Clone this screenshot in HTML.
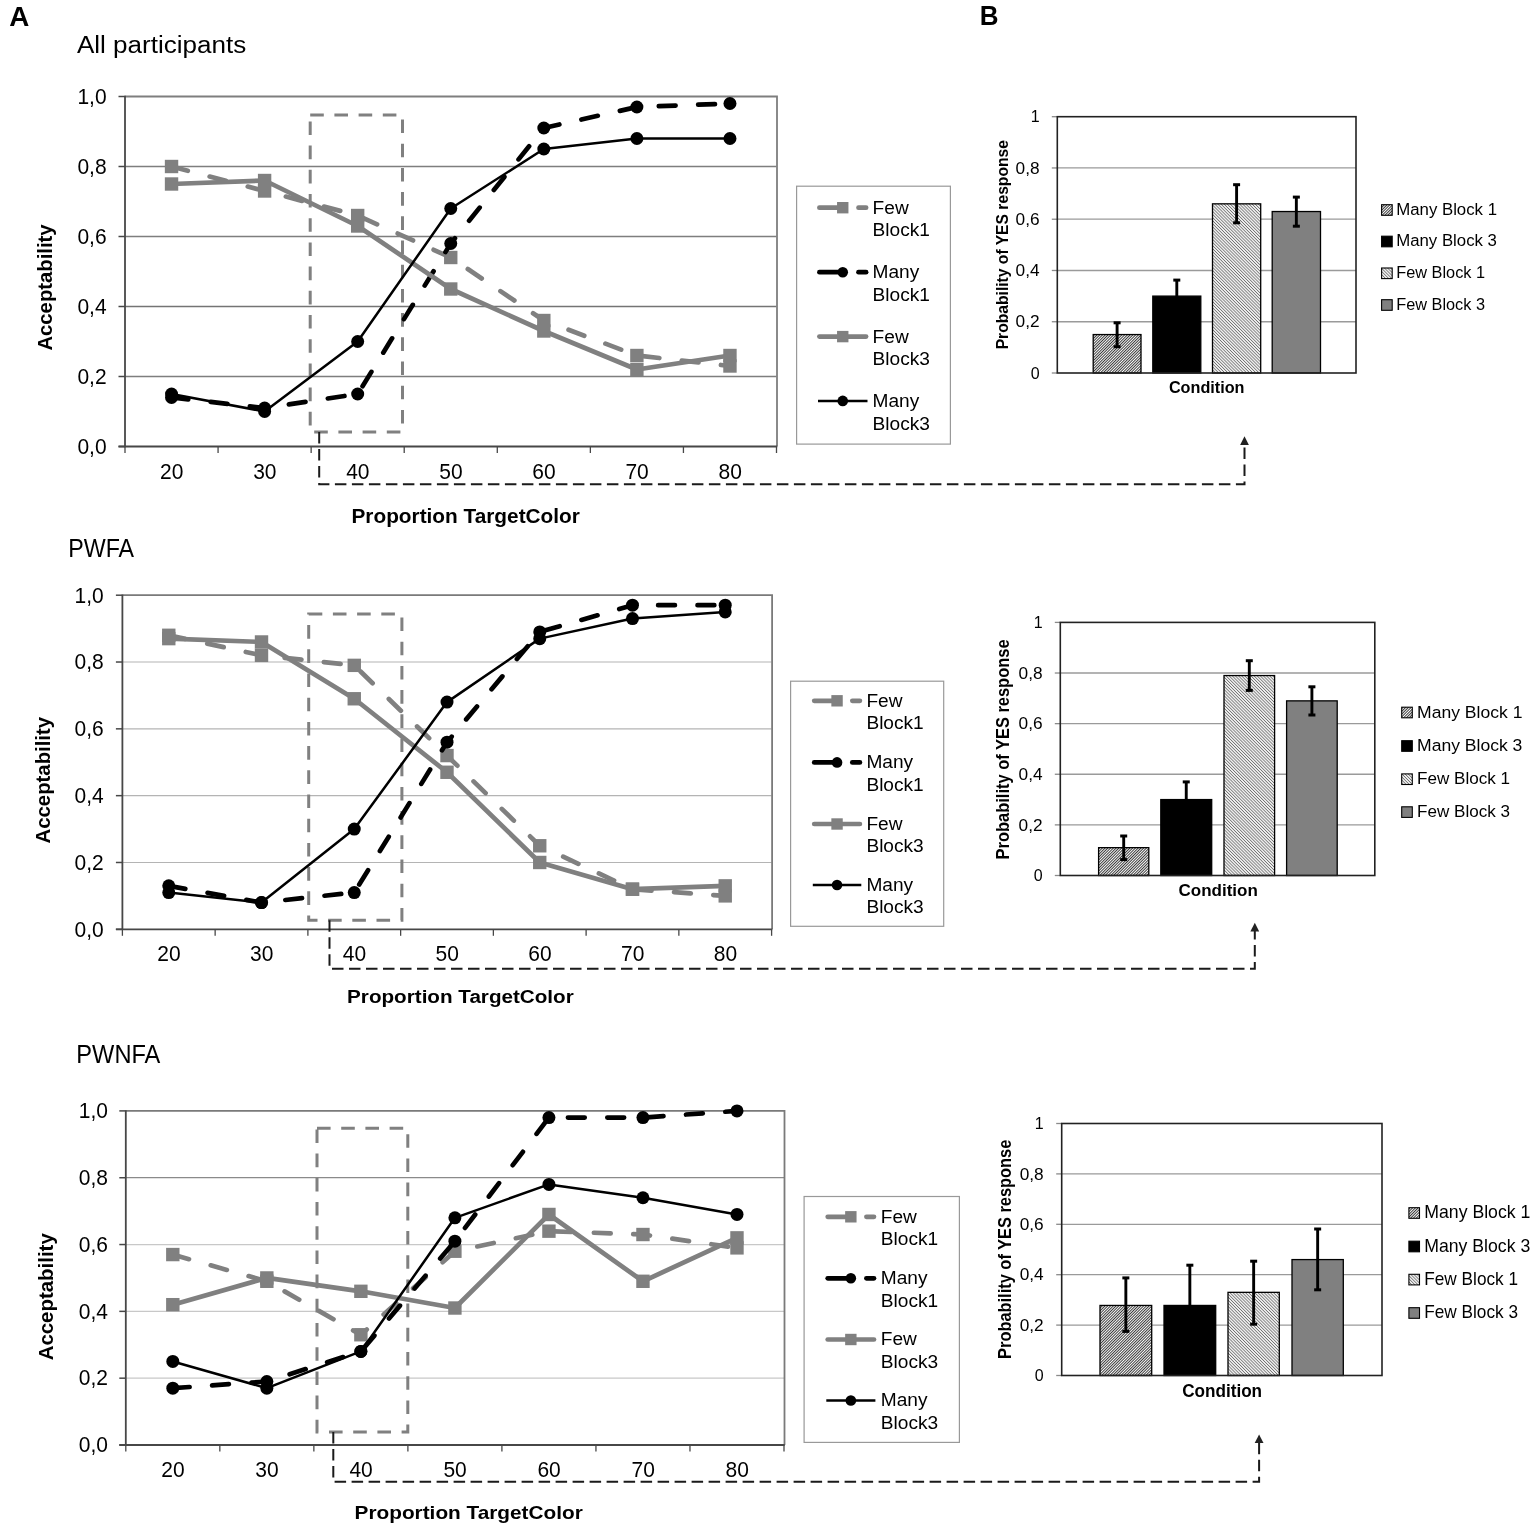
<!DOCTYPE html>
<html><head><meta charset="utf-8"><title>Figure</title>
<style>html,body{margin:0;padding:0;background:#fff;overflow:hidden;width:1535px;height:1524px;} svg{display:block;} text{font-family:"Liberation Sans",Arial,sans-serif;}</style>
</head><body>
<svg width="1535" height="1524" viewBox="0 0 1535 1524">
<rect width="1535" height="1524" fill="#fff"/>
<defs>
<pattern id="hatchA" patternUnits="userSpaceOnUse" width="4" height="1.95" patternTransform="rotate(-45)">
<rect width="4" height="1.95" fill="#fbfbfb"/><rect width="4" height="0.82" fill="#151515"/></pattern>
<pattern id="hatchB" patternUnits="userSpaceOnUse" width="4" height="2.2" patternTransform="rotate(45)">
<rect width="4" height="2.2" fill="#ededed"/><rect width="4" height="0.58" fill="#4d4d4d"/></pattern>
</defs>
<line x1="125" y1="376.50" x2="776.5" y2="376.50" stroke="#7e7e7e" stroke-width="1.5"/>
<line x1="125" y1="306.50" x2="776.5" y2="306.50" stroke="#747474" stroke-width="1.5"/>
<line x1="125" y1="236.50" x2="776.5" y2="236.50" stroke="#7e7e7e" stroke-width="1.5"/>
<line x1="125" y1="166.50" x2="776.5" y2="166.50" stroke="#7e7e7e" stroke-width="1.5"/>
<polyline points="125,96.5 777.0,96.5 777.0,446.5" fill="none" stroke="#7e7e7e" stroke-width="1.8"/>
<line x1="118.5" y1="446.50" x2="125" y2="446.50" stroke="#474747" stroke-width="1.5"/>
<line x1="118.5" y1="376.50" x2="125" y2="376.50" stroke="#474747" stroke-width="1.5"/>
<line x1="118.5" y1="306.50" x2="125" y2="306.50" stroke="#474747" stroke-width="1.5"/>
<line x1="118.5" y1="236.50" x2="125" y2="236.50" stroke="#474747" stroke-width="1.5"/>
<line x1="118.5" y1="166.50" x2="125" y2="166.50" stroke="#474747" stroke-width="1.5"/>
<line x1="118.5" y1="96.50" x2="125" y2="96.50" stroke="#474747" stroke-width="1.5"/>
<line x1="125.00" y1="446.5" x2="125.00" y2="453.0" stroke="#474747" stroke-width="1.3"/>
<line x1="218.07" y1="446.5" x2="218.07" y2="453.0" stroke="#474747" stroke-width="1.3"/>
<line x1="311.14" y1="446.5" x2="311.14" y2="453.0" stroke="#474747" stroke-width="1.3"/>
<line x1="404.21" y1="446.5" x2="404.21" y2="453.0" stroke="#474747" stroke-width="1.3"/>
<line x1="497.29" y1="446.5" x2="497.29" y2="453.0" stroke="#474747" stroke-width="1.3"/>
<line x1="590.36" y1="446.5" x2="590.36" y2="453.0" stroke="#474747" stroke-width="1.3"/>
<line x1="683.43" y1="446.5" x2="683.43" y2="453.0" stroke="#474747" stroke-width="1.3"/>
<line x1="776.50" y1="446.5" x2="776.50" y2="453.0" stroke="#474747" stroke-width="1.3"/>
<line x1="125" y1="95.8" x2="125" y2="447.3" stroke="#474747" stroke-width="1.8"/>
<line x1="118.5" y1="446.5" x2="777.2" y2="446.5" stroke="#474747" stroke-width="1.8"/>
<text x="106.60" y="453.80" font-size="22" text-anchor="end" textLength="29.19" lengthAdjust="spacingAndGlyphs">0,0</text>
<text x="106.60" y="383.80" font-size="22" text-anchor="end" textLength="29.19" lengthAdjust="spacingAndGlyphs">0,2</text>
<text x="106.60" y="313.80" font-size="22" text-anchor="end" textLength="29.19" lengthAdjust="spacingAndGlyphs">0,4</text>
<text x="106.60" y="243.80" font-size="22" text-anchor="end" textLength="29.19" lengthAdjust="spacingAndGlyphs">0,6</text>
<text x="106.60" y="173.80" font-size="22" text-anchor="end" textLength="29.19" lengthAdjust="spacingAndGlyphs">0,8</text>
<text x="106.60" y="103.80" font-size="22" text-anchor="end" textLength="29.19" lengthAdjust="spacingAndGlyphs">1,0</text>
<text x="171.74" y="478.60" font-size="22" text-anchor="middle" textLength="23.35" lengthAdjust="spacingAndGlyphs">20</text>
<text x="264.81" y="478.60" font-size="22" text-anchor="middle" textLength="23.35" lengthAdjust="spacingAndGlyphs">30</text>
<text x="357.88" y="478.60" font-size="22" text-anchor="middle" textLength="23.35" lengthAdjust="spacingAndGlyphs">40</text>
<text x="450.95" y="478.60" font-size="22" text-anchor="middle" textLength="23.35" lengthAdjust="spacingAndGlyphs">50</text>
<text x="544.02" y="478.60" font-size="22" text-anchor="middle" textLength="23.35" lengthAdjust="spacingAndGlyphs">60</text>
<text x="637.09" y="478.60" font-size="22" text-anchor="middle" textLength="23.35" lengthAdjust="spacingAndGlyphs">70</text>
<text x="730.16" y="478.60" font-size="22" text-anchor="middle" textLength="23.35" lengthAdjust="spacingAndGlyphs">80</text>
<rect x="310.2" y="115" width="92.30" height="317.00" fill="none" stroke="#808080" stroke-width="3" stroke-dasharray="13.6 10.6"/>
<polyline points="171.54,166.50 264.61,191.00 357.68,215.50 450.75,257.50 543.82,320.50 636.89,355.50 729.96,366.00" fill="none" stroke="#808080" stroke-width="4.7" stroke-linecap="round" stroke-linejoin="round" stroke-dasharray="16.8 22.6"/>
<rect x="164.84" y="159.80" width="13.4" height="13.4" fill="#808080"/>
<rect x="257.91" y="184.30" width="13.4" height="13.4" fill="#808080"/>
<rect x="350.98" y="208.80" width="13.4" height="13.4" fill="#808080"/>
<rect x="444.05" y="250.80" width="13.4" height="13.4" fill="#808080"/>
<rect x="537.12" y="313.80" width="13.4" height="13.4" fill="#808080"/>
<rect x="630.19" y="348.80" width="13.4" height="13.4" fill="#808080"/>
<rect x="723.26" y="359.30" width="13.4" height="13.4" fill="#808080"/>
<polyline points="171.54,397.50 264.61,408.00 357.68,394.00 450.75,243.50 543.82,128.00 636.89,107.00 729.96,103.50" fill="none" stroke="#000" stroke-width="4.7" stroke-linecap="round" stroke-linejoin="round" stroke-dasharray="16.8 22.6"/>
<circle cx="171.54" cy="397.50" r="6.5" fill="#000"/>
<circle cx="264.61" cy="408.00" r="6.5" fill="#000"/>
<circle cx="357.68" cy="394.00" r="6.5" fill="#000"/>
<circle cx="450.75" cy="243.50" r="6.5" fill="#000"/>
<circle cx="543.82" cy="128.00" r="6.5" fill="#000"/>
<circle cx="636.89" cy="107.00" r="6.5" fill="#000"/>
<circle cx="729.96" cy="103.50" r="6.5" fill="#000"/>
<polyline points="171.54,184.00 264.61,180.50 357.68,226.00 450.75,289.00 543.82,331.00 636.89,369.50 729.96,355.50" fill="none" stroke="#808080" stroke-width="4.7" stroke-linejoin="round"/>
<rect x="164.84" y="177.30" width="13.4" height="13.4" fill="#808080"/>
<rect x="257.91" y="173.80" width="13.4" height="13.4" fill="#808080"/>
<rect x="350.98" y="219.30" width="13.4" height="13.4" fill="#808080"/>
<rect x="444.05" y="282.30" width="13.4" height="13.4" fill="#808080"/>
<rect x="537.12" y="324.30" width="13.4" height="13.4" fill="#808080"/>
<rect x="630.19" y="362.80" width="13.4" height="13.4" fill="#808080"/>
<rect x="723.26" y="348.80" width="13.4" height="13.4" fill="#808080"/>
<polyline points="171.54,394.00 264.61,411.50 357.68,341.50 450.75,208.50 543.82,149.00 636.89,138.50 729.96,138.50" fill="none" stroke="#000" stroke-width="2.5" stroke-linejoin="round"/>
<circle cx="171.54" cy="394.00" r="6.5" fill="#000"/>
<circle cx="264.61" cy="411.50" r="6.5" fill="#000"/>
<circle cx="357.68" cy="341.50" r="6.5" fill="#000"/>
<circle cx="450.75" cy="208.50" r="6.5" fill="#000"/>
<circle cx="543.82" cy="149.00" r="6.5" fill="#000"/>
<circle cx="636.89" cy="138.50" r="6.5" fill="#000"/>
<circle cx="729.96" cy="138.50" r="6.5" fill="#000"/>
<rect x="796.6" y="186.2" width="153.80" height="257.90" fill="#fff" stroke="#999" stroke-width="1.2"/>
<line x1="819.40" y1="207.7" x2="839.75" y2="207.7" stroke="#808080" stroke-width="4.7" stroke-linecap="round"/>
<line x1="858.50" y1="207.7" x2="866.10" y2="207.7" stroke="#808080" stroke-width="4.7" stroke-linecap="round"/>
<rect x="837.05" y="202.00" width="11.4" height="11.4" fill="#808080"/>
<text x="872.60" y="213.90" font-size="19.1" font-weight="normal" text-anchor="start" fill="#000">Few</text>
<text x="872.60" y="236.30" font-size="19.1" font-weight="normal" text-anchor="start" fill="#000">Block1</text>
<line x1="819.40" y1="272.2" x2="839.75" y2="272.2" stroke="#000" stroke-width="4.7" stroke-linecap="round"/>
<line x1="858.50" y1="272.2" x2="866.10" y2="272.2" stroke="#000" stroke-width="4.7" stroke-linecap="round"/>
<circle cx="842.75" cy="272.2" r="5.3" fill="#000"/>
<text x="872.60" y="278.40" font-size="19.1" font-weight="normal" text-anchor="start" fill="#000">Many</text>
<text x="872.60" y="300.80" font-size="19.1" font-weight="normal" text-anchor="start" fill="#000">Block1</text>
<line x1="819.40" y1="336.6" x2="866.10" y2="336.6" stroke="#808080" stroke-width="4.7" stroke-linecap="round"/>
<rect x="837.05" y="330.90" width="11.4" height="11.4" fill="#808080"/>
<text x="872.60" y="342.80" font-size="19.1" font-weight="normal" text-anchor="start" fill="#000">Few</text>
<text x="872.60" y="365.20" font-size="19.1" font-weight="normal" text-anchor="start" fill="#000">Block3</text>
<line x1="818.00" y1="400.9" x2="867.50" y2="400.9" stroke="#000" stroke-width="2.5"/>
<circle cx="842.75" cy="400.9" r="5.3" fill="#000"/>
<text x="872.60" y="407.10" font-size="19.1" font-weight="normal" text-anchor="start" fill="#000">Many</text>
<text x="872.60" y="429.50" font-size="19.1" font-weight="normal" text-anchor="start" fill="#000">Block3</text>
<text x="76.95" y="53.45" font-size="24.83" font-weight="normal" textLength="169.31" lengthAdjust="spacingAndGlyphs" fill="#000">All participants</text>
<text transform="translate(52.05,350.56) rotate(-90)" font-size="19.72" font-weight="bold" textLength="126.13" lengthAdjust="spacingAndGlyphs" fill="#000">Acceptability</text>
<text x="351.50" y="523.45" font-size="20.00" font-weight="bold" textLength="228.35" lengthAdjust="spacingAndGlyphs" fill="#000">Proportion TargetColor</text>
<polyline points="319.2,432 319.2,484.3 1244.5,484.3 1244.5,443.3" fill="none" stroke="#1a1a1a" stroke-width="2" stroke-dasharray="11.5 5.5"/>
<polygon points="1244.5,436.3 1240.1,444.90000000000003 1248.9,444.90000000000003" fill="#222"/>
<line x1="122.4" y1="862.48" x2="771.6" y2="862.48" stroke="#b4b4b4" stroke-width="1.2"/>
<line x1="122.4" y1="795.66" x2="771.6" y2="795.66" stroke="#b4b4b4" stroke-width="1.2"/>
<line x1="122.4" y1="728.84" x2="771.6" y2="728.84" stroke="#b4b4b4" stroke-width="1.2"/>
<line x1="122.4" y1="662.02" x2="771.6" y2="662.02" stroke="#b4b4b4" stroke-width="1.2"/>
<polyline points="122.4,595.2 772.1,595.2 772.1,929.3" fill="none" stroke="#7a7a7a" stroke-width="1.8"/>
<line x1="115.9" y1="929.30" x2="122.4" y2="929.30" stroke="#474747" stroke-width="1.5"/>
<line x1="115.9" y1="862.48" x2="122.4" y2="862.48" stroke="#474747" stroke-width="1.5"/>
<line x1="115.9" y1="795.66" x2="122.4" y2="795.66" stroke="#474747" stroke-width="1.5"/>
<line x1="115.9" y1="728.84" x2="122.4" y2="728.84" stroke="#474747" stroke-width="1.5"/>
<line x1="115.9" y1="662.02" x2="122.4" y2="662.02" stroke="#474747" stroke-width="1.5"/>
<line x1="115.9" y1="595.20" x2="122.4" y2="595.20" stroke="#474747" stroke-width="1.5"/>
<line x1="122.40" y1="929.3" x2="122.40" y2="935.8" stroke="#474747" stroke-width="1.3"/>
<line x1="215.14" y1="929.3" x2="215.14" y2="935.8" stroke="#474747" stroke-width="1.3"/>
<line x1="307.89" y1="929.3" x2="307.89" y2="935.8" stroke="#474747" stroke-width="1.3"/>
<line x1="400.63" y1="929.3" x2="400.63" y2="935.8" stroke="#474747" stroke-width="1.3"/>
<line x1="493.37" y1="929.3" x2="493.37" y2="935.8" stroke="#474747" stroke-width="1.3"/>
<line x1="586.11" y1="929.3" x2="586.11" y2="935.8" stroke="#474747" stroke-width="1.3"/>
<line x1="678.86" y1="929.3" x2="678.86" y2="935.8" stroke="#474747" stroke-width="1.3"/>
<line x1="771.60" y1="929.3" x2="771.60" y2="935.8" stroke="#474747" stroke-width="1.3"/>
<line x1="122.4" y1="594.5" x2="122.4" y2="930.0999999999999" stroke="#474747" stroke-width="1.8"/>
<line x1="115.9" y1="929.3" x2="772.3000000000001" y2="929.3" stroke="#474747" stroke-width="1.8"/>
<text x="103.70" y="936.60" font-size="22" text-anchor="end" textLength="29.19" lengthAdjust="spacingAndGlyphs">0,0</text>
<text x="103.70" y="869.78" font-size="22" text-anchor="end" textLength="29.19" lengthAdjust="spacingAndGlyphs">0,2</text>
<text x="103.70" y="802.96" font-size="22" text-anchor="end" textLength="29.19" lengthAdjust="spacingAndGlyphs">0,4</text>
<text x="103.70" y="736.14" font-size="22" text-anchor="end" textLength="29.19" lengthAdjust="spacingAndGlyphs">0,6</text>
<text x="103.70" y="669.32" font-size="22" text-anchor="end" textLength="29.19" lengthAdjust="spacingAndGlyphs">0,8</text>
<text x="103.70" y="602.50" font-size="22" text-anchor="end" textLength="29.19" lengthAdjust="spacingAndGlyphs">1,0</text>
<text x="168.97" y="961.40" font-size="22" text-anchor="middle" textLength="23.35" lengthAdjust="spacingAndGlyphs">20</text>
<text x="261.71" y="961.40" font-size="22" text-anchor="middle" textLength="23.35" lengthAdjust="spacingAndGlyphs">30</text>
<text x="354.46" y="961.40" font-size="22" text-anchor="middle" textLength="23.35" lengthAdjust="spacingAndGlyphs">40</text>
<text x="447.20" y="961.40" font-size="22" text-anchor="middle" textLength="23.35" lengthAdjust="spacingAndGlyphs">50</text>
<text x="539.94" y="961.40" font-size="22" text-anchor="middle" textLength="23.35" lengthAdjust="spacingAndGlyphs">60</text>
<text x="632.69" y="961.40" font-size="22" text-anchor="middle" textLength="23.35" lengthAdjust="spacingAndGlyphs">70</text>
<text x="725.43" y="961.40" font-size="22" text-anchor="middle" textLength="23.35" lengthAdjust="spacingAndGlyphs">80</text>
<rect x="308.7" y="613.9" width="93.20" height="306.40" fill="none" stroke="#808080" stroke-width="3" stroke-dasharray="13.6 10.6"/>
<polyline points="168.77,635.29 261.51,655.34 354.26,665.36 447.00,755.57 539.74,845.77 632.49,889.21 725.23,895.89" fill="none" stroke="#808080" stroke-width="4.7" stroke-linecap="round" stroke-linejoin="round" stroke-dasharray="16.8 22.6"/>
<rect x="162.07" y="628.59" width="13.4" height="13.4" fill="#808080"/>
<rect x="254.81" y="648.64" width="13.4" height="13.4" fill="#808080"/>
<rect x="347.56" y="658.66" width="13.4" height="13.4" fill="#808080"/>
<rect x="440.30" y="748.87" width="13.4" height="13.4" fill="#808080"/>
<rect x="533.04" y="839.07" width="13.4" height="13.4" fill="#808080"/>
<rect x="625.79" y="882.51" width="13.4" height="13.4" fill="#808080"/>
<rect x="718.53" y="889.19" width="13.4" height="13.4" fill="#808080"/>
<polyline points="168.77,885.87 261.51,902.57 354.26,892.55 447.00,742.20 539.74,631.95 632.49,605.22 725.23,605.22" fill="none" stroke="#000" stroke-width="4.7" stroke-linecap="round" stroke-linejoin="round" stroke-dasharray="16.8 22.6"/>
<circle cx="168.77" cy="885.87" r="6.5" fill="#000"/>
<circle cx="261.51" cy="902.57" r="6.5" fill="#000"/>
<circle cx="354.26" cy="892.55" r="6.5" fill="#000"/>
<circle cx="447.00" cy="742.20" r="6.5" fill="#000"/>
<circle cx="539.74" cy="631.95" r="6.5" fill="#000"/>
<circle cx="632.49" cy="605.22" r="6.5" fill="#000"/>
<circle cx="725.23" cy="605.22" r="6.5" fill="#000"/>
<polyline points="168.77,638.63 261.51,641.97 354.26,698.77 447.00,772.27 539.74,862.48 632.49,889.21 725.23,885.87" fill="none" stroke="#808080" stroke-width="4.7" stroke-linejoin="round"/>
<rect x="162.07" y="631.93" width="13.4" height="13.4" fill="#808080"/>
<rect x="254.81" y="635.27" width="13.4" height="13.4" fill="#808080"/>
<rect x="347.56" y="692.07" width="13.4" height="13.4" fill="#808080"/>
<rect x="440.30" y="765.57" width="13.4" height="13.4" fill="#808080"/>
<rect x="533.04" y="855.78" width="13.4" height="13.4" fill="#808080"/>
<rect x="625.79" y="882.51" width="13.4" height="13.4" fill="#808080"/>
<rect x="718.53" y="879.17" width="13.4" height="13.4" fill="#808080"/>
<polyline points="168.77,892.55 261.51,902.57 354.26,829.07 447.00,702.11 539.74,638.63 632.49,618.59 725.23,611.90" fill="none" stroke="#000" stroke-width="2.5" stroke-linejoin="round"/>
<circle cx="168.77" cy="892.55" r="6.5" fill="#000"/>
<circle cx="261.51" cy="902.57" r="6.5" fill="#000"/>
<circle cx="354.26" cy="829.07" r="6.5" fill="#000"/>
<circle cx="447.00" cy="702.11" r="6.5" fill="#000"/>
<circle cx="539.74" cy="638.63" r="6.5" fill="#000"/>
<circle cx="632.49" cy="618.59" r="6.5" fill="#000"/>
<circle cx="725.23" cy="611.90" r="6.5" fill="#000"/>
<rect x="790.6" y="681.2" width="153.10" height="245.10" fill="#fff" stroke="#999" stroke-width="1.2"/>
<line x1="814.20" y1="700.8" x2="834.05" y2="700.8" stroke="#808080" stroke-width="4.7" stroke-linecap="round"/>
<line x1="852.30" y1="700.8" x2="859.90" y2="700.8" stroke="#808080" stroke-width="4.7" stroke-linecap="round"/>
<rect x="831.35" y="695.10" width="11.4" height="11.4" fill="#808080"/>
<text x="866.40" y="706.60" font-size="19.1" font-weight="normal" text-anchor="start" fill="#000">Few</text>
<text x="866.40" y="729.10" font-size="19.1" font-weight="normal" text-anchor="start" fill="#000">Block1</text>
<line x1="814.20" y1="762.4" x2="834.05" y2="762.4" stroke="#000" stroke-width="4.7" stroke-linecap="round"/>
<line x1="852.30" y1="762.4" x2="859.90" y2="762.4" stroke="#000" stroke-width="4.7" stroke-linecap="round"/>
<circle cx="837.05" cy="762.4" r="5.3" fill="#000"/>
<text x="866.40" y="768.20" font-size="19.1" font-weight="normal" text-anchor="start" fill="#000">Many</text>
<text x="866.40" y="790.70" font-size="19.1" font-weight="normal" text-anchor="start" fill="#000">Block1</text>
<line x1="814.20" y1="824.0" x2="859.90" y2="824.0" stroke="#808080" stroke-width="4.7" stroke-linecap="round"/>
<rect x="831.35" y="818.30" width="11.4" height="11.4" fill="#808080"/>
<text x="866.40" y="829.80" font-size="19.1" font-weight="normal" text-anchor="start" fill="#000">Few</text>
<text x="866.40" y="852.30" font-size="19.1" font-weight="normal" text-anchor="start" fill="#000">Block3</text>
<line x1="812.80" y1="885.0" x2="861.30" y2="885.0" stroke="#000" stroke-width="2.5"/>
<circle cx="837.05" cy="885.0" r="5.3" fill="#000"/>
<text x="866.40" y="890.80" font-size="19.1" font-weight="normal" text-anchor="start" fill="#000">Many</text>
<text x="866.40" y="913.30" font-size="19.1" font-weight="normal" text-anchor="start" fill="#000">Block3</text>
<text x="68.19" y="557.25" font-size="26.09" font-weight="normal" textLength="65.89" lengthAdjust="spacingAndGlyphs" fill="#000">PWFA</text>
<text transform="translate(50.15,843.46) rotate(-90)" font-size="20.14" font-weight="bold" textLength="126.53" lengthAdjust="spacingAndGlyphs" fill="#000">Acceptability</text>
<text x="347.11" y="1003.15" font-size="18.62" font-weight="bold" textLength="226.63" lengthAdjust="spacingAndGlyphs" fill="#000">Proportion TargetColor</text>
<polyline points="329.5,920.3 329.5,968.8 1254.8,968.8 1254.8,929.8" fill="none" stroke="#1a1a1a" stroke-width="2" stroke-dasharray="11.5 5.5"/>
<polygon points="1254.8,922.8 1250.3999999999999,931.4 1259.2,931.4" fill="#222"/>
<line x1="125.8" y1="1378.18" x2="784.0" y2="1378.18" stroke="#c8c8c8" stroke-width="1.2"/>
<line x1="125.8" y1="1311.36" x2="784.0" y2="1311.36" stroke="#c8c8c8" stroke-width="1.2"/>
<line x1="125.8" y1="1244.54" x2="784.0" y2="1244.54" stroke="#c8c8c8" stroke-width="1.2"/>
<line x1="125.8" y1="1177.72" x2="784.0" y2="1177.72" stroke="#8a8a8a" stroke-width="1.2"/>
<polyline points="125.8,1110.9 784.5,1110.9 784.5,1445.0" fill="none" stroke="#7a7a7a" stroke-width="1.8"/>
<line x1="119.3" y1="1445.00" x2="125.8" y2="1445.00" stroke="#474747" stroke-width="1.5"/>
<line x1="119.3" y1="1378.18" x2="125.8" y2="1378.18" stroke="#474747" stroke-width="1.5"/>
<line x1="119.3" y1="1311.36" x2="125.8" y2="1311.36" stroke="#474747" stroke-width="1.5"/>
<line x1="119.3" y1="1244.54" x2="125.8" y2="1244.54" stroke="#474747" stroke-width="1.5"/>
<line x1="119.3" y1="1177.72" x2="125.8" y2="1177.72" stroke="#474747" stroke-width="1.5"/>
<line x1="119.3" y1="1110.90" x2="125.8" y2="1110.90" stroke="#474747" stroke-width="1.5"/>
<line x1="125.80" y1="1445.0" x2="125.80" y2="1451.5" stroke="#474747" stroke-width="1.3"/>
<line x1="219.83" y1="1445.0" x2="219.83" y2="1451.5" stroke="#474747" stroke-width="1.3"/>
<line x1="313.86" y1="1445.0" x2="313.86" y2="1451.5" stroke="#474747" stroke-width="1.3"/>
<line x1="407.89" y1="1445.0" x2="407.89" y2="1451.5" stroke="#474747" stroke-width="1.3"/>
<line x1="501.91" y1="1445.0" x2="501.91" y2="1451.5" stroke="#474747" stroke-width="1.3"/>
<line x1="595.94" y1="1445.0" x2="595.94" y2="1451.5" stroke="#474747" stroke-width="1.3"/>
<line x1="689.97" y1="1445.0" x2="689.97" y2="1451.5" stroke="#474747" stroke-width="1.3"/>
<line x1="784.00" y1="1445.0" x2="784.00" y2="1451.5" stroke="#474747" stroke-width="1.3"/>
<line x1="125.8" y1="1110.2" x2="125.8" y2="1445.8" stroke="#474747" stroke-width="1.8"/>
<line x1="119.3" y1="1445.0" x2="784.7" y2="1445.0" stroke="#474747" stroke-width="1.8"/>
<text x="108.00" y="1452.30" font-size="22" text-anchor="end" textLength="29.19" lengthAdjust="spacingAndGlyphs">0,0</text>
<text x="108.00" y="1385.48" font-size="22" text-anchor="end" textLength="29.19" lengthAdjust="spacingAndGlyphs">0,2</text>
<text x="108.00" y="1318.66" font-size="22" text-anchor="end" textLength="29.19" lengthAdjust="spacingAndGlyphs">0,4</text>
<text x="108.00" y="1251.84" font-size="22" text-anchor="end" textLength="29.19" lengthAdjust="spacingAndGlyphs">0,6</text>
<text x="108.00" y="1185.02" font-size="22" text-anchor="end" textLength="29.19" lengthAdjust="spacingAndGlyphs">0,8</text>
<text x="108.00" y="1118.20" font-size="22" text-anchor="end" textLength="29.19" lengthAdjust="spacingAndGlyphs">1,0</text>
<text x="173.01" y="1477.00" font-size="22" text-anchor="middle" textLength="23.35" lengthAdjust="spacingAndGlyphs">20</text>
<text x="267.04" y="1477.00" font-size="22" text-anchor="middle" textLength="23.35" lengthAdjust="spacingAndGlyphs">30</text>
<text x="361.07" y="1477.00" font-size="22" text-anchor="middle" textLength="23.35" lengthAdjust="spacingAndGlyphs">40</text>
<text x="455.10" y="1477.00" font-size="22" text-anchor="middle" textLength="23.35" lengthAdjust="spacingAndGlyphs">50</text>
<text x="549.13" y="1477.00" font-size="22" text-anchor="middle" textLength="23.35" lengthAdjust="spacingAndGlyphs">60</text>
<text x="643.16" y="1477.00" font-size="22" text-anchor="middle" textLength="23.35" lengthAdjust="spacingAndGlyphs">70</text>
<text x="737.19" y="1477.00" font-size="22" text-anchor="middle" textLength="23.35" lengthAdjust="spacingAndGlyphs">80</text>
<rect x="317.0" y="1128.2" width="90.80" height="303.80" fill="none" stroke="#808080" stroke-width="3" stroke-dasharray="13.6 10.6"/>
<polyline points="172.81,1254.56 266.84,1281.29 360.87,1334.75 454.90,1251.22 548.93,1231.18 642.96,1234.52 736.99,1247.88" fill="none" stroke="#808080" stroke-width="4.7" stroke-linecap="round" stroke-linejoin="round" stroke-dasharray="16.8 22.6"/>
<rect x="166.11" y="1247.86" width="13.4" height="13.4" fill="#808080"/>
<rect x="260.14" y="1274.59" width="13.4" height="13.4" fill="#808080"/>
<rect x="354.17" y="1328.05" width="13.4" height="13.4" fill="#808080"/>
<rect x="448.20" y="1244.52" width="13.4" height="13.4" fill="#808080"/>
<rect x="542.23" y="1224.48" width="13.4" height="13.4" fill="#808080"/>
<rect x="636.26" y="1227.82" width="13.4" height="13.4" fill="#808080"/>
<rect x="730.29" y="1241.18" width="13.4" height="13.4" fill="#808080"/>
<polyline points="172.81,1388.20 266.84,1381.52 360.87,1351.45 454.90,1241.20 548.93,1117.58 642.96,1117.58 736.99,1110.90" fill="none" stroke="#000" stroke-width="4.7" stroke-linecap="round" stroke-linejoin="round" stroke-dasharray="16.8 22.6"/>
<circle cx="172.81" cy="1388.20" r="6.5" fill="#000"/>
<circle cx="266.84" cy="1381.52" r="6.5" fill="#000"/>
<circle cx="360.87" cy="1351.45" r="6.5" fill="#000"/>
<circle cx="454.90" cy="1241.20" r="6.5" fill="#000"/>
<circle cx="548.93" cy="1117.58" r="6.5" fill="#000"/>
<circle cx="642.96" cy="1117.58" r="6.5" fill="#000"/>
<circle cx="736.99" cy="1110.90" r="6.5" fill="#000"/>
<polyline points="172.81,1304.68 266.84,1277.95 360.87,1291.31 454.90,1308.02 548.93,1214.47 642.96,1281.29 736.99,1237.86" fill="none" stroke="#808080" stroke-width="4.7" stroke-linejoin="round"/>
<rect x="166.11" y="1297.98" width="13.4" height="13.4" fill="#808080"/>
<rect x="260.14" y="1271.25" width="13.4" height="13.4" fill="#808080"/>
<rect x="354.17" y="1284.61" width="13.4" height="13.4" fill="#808080"/>
<rect x="448.20" y="1301.32" width="13.4" height="13.4" fill="#808080"/>
<rect x="542.23" y="1207.77" width="13.4" height="13.4" fill="#808080"/>
<rect x="636.26" y="1274.59" width="13.4" height="13.4" fill="#808080"/>
<rect x="730.29" y="1231.16" width="13.4" height="13.4" fill="#808080"/>
<polyline points="172.81,1361.47 266.84,1388.20 360.87,1351.45 454.90,1217.81 548.93,1184.40 642.96,1197.77 736.99,1214.47" fill="none" stroke="#000" stroke-width="2.5" stroke-linejoin="round"/>
<circle cx="172.81" cy="1361.47" r="6.5" fill="#000"/>
<circle cx="266.84" cy="1388.20" r="6.5" fill="#000"/>
<circle cx="360.87" cy="1351.45" r="6.5" fill="#000"/>
<circle cx="454.90" cy="1217.81" r="6.5" fill="#000"/>
<circle cx="548.93" cy="1184.40" r="6.5" fill="#000"/>
<circle cx="642.96" cy="1197.77" r="6.5" fill="#000"/>
<circle cx="736.99" cy="1214.47" r="6.5" fill="#000"/>
<rect x="804.1" y="1196.5" width="155.30" height="245.90" fill="#fff" stroke="#999" stroke-width="1.2"/>
<line x1="827.70" y1="1216.8" x2="847.85" y2="1216.8" stroke="#808080" stroke-width="4.7" stroke-linecap="round"/>
<line x1="866.40" y1="1216.8" x2="874.00" y2="1216.8" stroke="#808080" stroke-width="4.7" stroke-linecap="round"/>
<rect x="845.15" y="1211.10" width="11.4" height="11.4" fill="#808080"/>
<text x="880.80" y="1222.60" font-size="19.1" font-weight="normal" text-anchor="start" fill="#000">Few</text>
<text x="880.80" y="1245.10" font-size="19.1" font-weight="normal" text-anchor="start" fill="#000">Block1</text>
<line x1="827.70" y1="1278.3" x2="847.85" y2="1278.3" stroke="#000" stroke-width="4.7" stroke-linecap="round"/>
<line x1="866.40" y1="1278.3" x2="874.00" y2="1278.3" stroke="#000" stroke-width="4.7" stroke-linecap="round"/>
<circle cx="850.85" cy="1278.3" r="5.3" fill="#000"/>
<text x="880.80" y="1284.10" font-size="19.1" font-weight="normal" text-anchor="start" fill="#000">Many</text>
<text x="880.80" y="1306.60" font-size="19.1" font-weight="normal" text-anchor="start" fill="#000">Block1</text>
<line x1="827.70" y1="1339.5" x2="874.00" y2="1339.5" stroke="#808080" stroke-width="4.7" stroke-linecap="round"/>
<rect x="845.15" y="1333.80" width="11.4" height="11.4" fill="#808080"/>
<text x="880.80" y="1345.30" font-size="19.1" font-weight="normal" text-anchor="start" fill="#000">Few</text>
<text x="880.80" y="1367.80" font-size="19.1" font-weight="normal" text-anchor="start" fill="#000">Block3</text>
<line x1="826.30" y1="1400.5" x2="875.40" y2="1400.5" stroke="#000" stroke-width="2.5"/>
<circle cx="850.85" cy="1400.5" r="5.3" fill="#000"/>
<text x="880.80" y="1406.30" font-size="19.1" font-weight="normal" text-anchor="start" fill="#000">Many</text>
<text x="880.80" y="1428.80" font-size="19.1" font-weight="normal" text-anchor="start" fill="#000">Block3</text>
<text x="76.36" y="1062.95" font-size="25.36" font-weight="normal" textLength="84.02" lengthAdjust="spacingAndGlyphs" fill="#000">PWNFA</text>
<text transform="translate(52.65,1360.36) rotate(-90)" font-size="20.55" font-weight="bold" textLength="127.13" lengthAdjust="spacingAndGlyphs" fill="#000">Acceptability</text>
<text x="354.60" y="1518.75" font-size="18.21" font-weight="bold" textLength="228.14" lengthAdjust="spacingAndGlyphs" fill="#000">Proportion TargetColor</text>
<polyline points="333.3,1432.0 333.3,1481.7 1259.1,1481.7 1259.1,1441.4" fill="none" stroke="#1a1a1a" stroke-width="2" stroke-dasharray="11.5 5.5"/>
<polygon points="1259.1,1434.4 1254.6999999999998,1443.0 1263.5,1443.0" fill="#222"/>
<line x1="1057.3" y1="321.74" x2="1356.0" y2="321.74" stroke="#9a9a9a" stroke-width="1.3"/>
<line x1="1057.3" y1="270.48" x2="1356.0" y2="270.48" stroke="#9a9a9a" stroke-width="1.3"/>
<line x1="1057.3" y1="219.22" x2="1356.0" y2="219.22" stroke="#9a9a9a" stroke-width="1.3"/>
<line x1="1057.3" y1="167.96" x2="1356.0" y2="167.96" stroke="#9a9a9a" stroke-width="1.3"/>
<line x1="1051.8" y1="373.00" x2="1057.3" y2="373.00" stroke="#8a8a8a" stroke-width="1.3"/>
<line x1="1051.8" y1="321.74" x2="1057.3" y2="321.74" stroke="#8a8a8a" stroke-width="1.3"/>
<line x1="1051.8" y1="270.48" x2="1057.3" y2="270.48" stroke="#8a8a8a" stroke-width="1.3"/>
<line x1="1051.8" y1="219.22" x2="1057.3" y2="219.22" stroke="#8a8a8a" stroke-width="1.3"/>
<line x1="1051.8" y1="167.96" x2="1057.3" y2="167.96" stroke="#8a8a8a" stroke-width="1.3"/>
<line x1="1051.8" y1="116.70" x2="1057.3" y2="116.70" stroke="#8a8a8a" stroke-width="1.3"/>
<rect x="1093.2" y="334.56" width="47.80" height="38.44" fill="url(#hatchA)" stroke="#000" stroke-width="1.3"/>
<rect x="1152.8" y="296.11" width="48.00" height="76.89" fill="#000" stroke="#000" stroke-width="1.3"/>
<rect x="1212.5" y="203.84" width="48.20" height="169.16" fill="url(#hatchB)" stroke="#000" stroke-width="1.3"/>
<rect x="1272.2" y="211.53" width="48.30" height="161.47" fill="#808080" stroke="#000" stroke-width="1.3"/>
<rect x="1057.3" y="116.7" width="298.70" height="256.30" fill="none" stroke="#222" stroke-width="1.6"/>
<line x1="1117.10" y1="322.8" x2="1117.10" y2="346.7" stroke="#000" stroke-width="2.9"/>
<line x1="1113.60" y1="322.8" x2="1120.60" y2="322.8" stroke="#000" stroke-width="3"/>
<line x1="1113.60" y1="346.7" x2="1120.60" y2="346.7" stroke="#000" stroke-width="3"/>
<line x1="1176.80" y1="280.1" x2="1176.80" y2="312.0" stroke="#000" stroke-width="2.9"/>
<line x1="1173.30" y1="280.1" x2="1180.30" y2="280.1" stroke="#000" stroke-width="3"/>
<line x1="1173.30" y1="312.0" x2="1180.30" y2="312.0" stroke="#000" stroke-width="3"/>
<line x1="1236.60" y1="184.7" x2="1236.60" y2="222.8" stroke="#000" stroke-width="2.9"/>
<line x1="1233.10" y1="184.7" x2="1240.10" y2="184.7" stroke="#000" stroke-width="3"/>
<line x1="1233.10" y1="222.8" x2="1240.10" y2="222.8" stroke="#000" stroke-width="3"/>
<line x1="1296.35" y1="197.1" x2="1296.35" y2="226.2" stroke="#000" stroke-width="2.9"/>
<line x1="1292.85" y1="197.1" x2="1299.85" y2="197.1" stroke="#000" stroke-width="3"/>
<line x1="1292.85" y1="226.2" x2="1299.85" y2="226.2" stroke="#000" stroke-width="3"/>
<text x="1039.6" y="378.70" font-size="16" text-anchor="end" textLength="8.9" lengthAdjust="spacingAndGlyphs">0</text>
<text x="1039.6" y="327.44" font-size="16" text-anchor="end" textLength="24.0" lengthAdjust="spacingAndGlyphs">0,2</text>
<text x="1039.6" y="276.18" font-size="16" text-anchor="end" textLength="24.0" lengthAdjust="spacingAndGlyphs">0,4</text>
<text x="1039.6" y="224.92" font-size="16" text-anchor="end" textLength="24.0" lengthAdjust="spacingAndGlyphs">0,6</text>
<text x="1039.6" y="173.66" font-size="16" text-anchor="end" textLength="24.0" lengthAdjust="spacingAndGlyphs">0,8</text>
<text x="1039.6" y="122.40" font-size="16" text-anchor="end" textLength="8.9" lengthAdjust="spacingAndGlyphs">1</text>
<rect x="1381.6" y="204.70" width="10.6" height="10.6" fill="url(#hatchA)" stroke="#000" stroke-width="1.1"/>
<rect x="1381.6" y="236.20" width="10.6" height="10.6" fill="#000" stroke="#000" stroke-width="1.1"/>
<rect x="1381.6" y="268.00" width="10.6" height="10.6" fill="url(#hatchB)" stroke="#000" stroke-width="1.1"/>
<rect x="1381.6" y="299.70" width="10.6" height="10.6" fill="#808080" stroke="#000" stroke-width="1.1"/>
<text x="1396.21" y="214.85" font-size="16.41" font-weight="normal" textLength="100.82" lengthAdjust="spacingAndGlyphs" fill="#000">Many Block 1</text>
<text x="1396.21" y="246.35" font-size="16.41" font-weight="normal" textLength="100.73" lengthAdjust="spacingAndGlyphs" fill="#000">Many Block 3</text>
<text x="1396.24" y="278.15" font-size="16.41" font-weight="normal" textLength="88.86" lengthAdjust="spacingAndGlyphs" fill="#000">Few Block 1</text>
<text x="1396.25" y="309.85" font-size="16.41" font-weight="normal" textLength="88.77" lengthAdjust="spacingAndGlyphs" fill="#000">Few Block 3</text>
<text transform="translate(1008.45,349.37) rotate(-90)" font-size="17.24" font-weight="bold" textLength="209.30" lengthAdjust="spacingAndGlyphs" fill="#000">Probability of YES response</text>
<text x="1168.90" y="392.85" font-size="17.38" font-weight="bold" textLength="75.63" lengthAdjust="spacingAndGlyphs" fill="#000">Condition</text>
<line x1="1060.3" y1="824.88" x2="1374.8" y2="824.88" stroke="#9a9a9a" stroke-width="1.3"/>
<line x1="1060.3" y1="774.26" x2="1374.8" y2="774.26" stroke="#9a9a9a" stroke-width="1.3"/>
<line x1="1060.3" y1="723.64" x2="1374.8" y2="723.64" stroke="#9a9a9a" stroke-width="1.3"/>
<line x1="1060.3" y1="673.02" x2="1374.8" y2="673.02" stroke="#9a9a9a" stroke-width="1.3"/>
<line x1="1054.8" y1="875.50" x2="1060.3" y2="875.50" stroke="#8a8a8a" stroke-width="1.3"/>
<line x1="1054.8" y1="824.88" x2="1060.3" y2="824.88" stroke="#8a8a8a" stroke-width="1.3"/>
<line x1="1054.8" y1="774.26" x2="1060.3" y2="774.26" stroke="#8a8a8a" stroke-width="1.3"/>
<line x1="1054.8" y1="723.64" x2="1060.3" y2="723.64" stroke="#8a8a8a" stroke-width="1.3"/>
<line x1="1054.8" y1="673.02" x2="1060.3" y2="673.02" stroke="#8a8a8a" stroke-width="1.3"/>
<line x1="1054.8" y1="622.40" x2="1060.3" y2="622.40" stroke="#8a8a8a" stroke-width="1.3"/>
<rect x="1098.6" y="847.66" width="50.20" height="27.84" fill="url(#hatchA)" stroke="#000" stroke-width="1.3"/>
<rect x="1160.8" y="799.57" width="50.90" height="75.93" fill="#000" stroke="#000" stroke-width="1.3"/>
<rect x="1224.0" y="675.55" width="50.60" height="199.95" fill="url(#hatchB)" stroke="#000" stroke-width="1.3"/>
<rect x="1286.6" y="700.86" width="50.60" height="174.64" fill="#808080" stroke="#000" stroke-width="1.3"/>
<rect x="1060.3" y="622.4" width="314.50" height="253.10" fill="none" stroke="#222" stroke-width="1.6"/>
<line x1="1123.70" y1="836.0" x2="1123.70" y2="859.6" stroke="#000" stroke-width="2.9"/>
<line x1="1120.20" y1="836.0" x2="1127.20" y2="836.0" stroke="#000" stroke-width="3"/>
<line x1="1120.20" y1="859.6" x2="1127.20" y2="859.6" stroke="#000" stroke-width="3"/>
<line x1="1186.25" y1="781.9" x2="1186.25" y2="817.0" stroke="#000" stroke-width="2.9"/>
<line x1="1182.75" y1="781.9" x2="1189.75" y2="781.9" stroke="#000" stroke-width="3"/>
<line x1="1182.75" y1="817.0" x2="1189.75" y2="817.0" stroke="#000" stroke-width="3"/>
<line x1="1249.30" y1="660.7" x2="1249.30" y2="690.4" stroke="#000" stroke-width="2.9"/>
<line x1="1245.80" y1="660.7" x2="1252.80" y2="660.7" stroke="#000" stroke-width="3"/>
<line x1="1245.80" y1="690.4" x2="1252.80" y2="690.4" stroke="#000" stroke-width="3"/>
<line x1="1311.90" y1="686.8" x2="1311.90" y2="715.0" stroke="#000" stroke-width="2.9"/>
<line x1="1308.40" y1="686.8" x2="1315.40" y2="686.8" stroke="#000" stroke-width="3"/>
<line x1="1308.40" y1="715.0" x2="1315.40" y2="715.0" stroke="#000" stroke-width="3"/>
<text x="1042.6" y="881.20" font-size="16" text-anchor="end" textLength="8.9" lengthAdjust="spacingAndGlyphs">0</text>
<text x="1042.6" y="830.58" font-size="16" text-anchor="end" textLength="24.0" lengthAdjust="spacingAndGlyphs">0,2</text>
<text x="1042.6" y="779.96" font-size="16" text-anchor="end" textLength="24.0" lengthAdjust="spacingAndGlyphs">0,4</text>
<text x="1042.6" y="729.34" font-size="16" text-anchor="end" textLength="24.0" lengthAdjust="spacingAndGlyphs">0,6</text>
<text x="1042.6" y="678.72" font-size="16" text-anchor="end" textLength="24.0" lengthAdjust="spacingAndGlyphs">0,8</text>
<text x="1042.6" y="628.10" font-size="16" text-anchor="end" textLength="8.9" lengthAdjust="spacingAndGlyphs">1</text>
<rect x="1401.7" y="707.20" width="10.6" height="10.6" fill="url(#hatchA)" stroke="#000" stroke-width="1.1"/>
<rect x="1401.7" y="740.70" width="10.6" height="10.6" fill="#000" stroke="#000" stroke-width="1.1"/>
<rect x="1401.7" y="773.90" width="10.6" height="10.6" fill="url(#hatchB)" stroke="#000" stroke-width="1.1"/>
<rect x="1401.7" y="806.80" width="10.6" height="10.6" fill="#808080" stroke="#000" stroke-width="1.1"/>
<text x="1417.05" y="717.75" font-size="17.24" font-weight="normal" textLength="105.42" lengthAdjust="spacingAndGlyphs" fill="#000">Many Block 1</text>
<text x="1417.05" y="751.25" font-size="17.24" font-weight="normal" textLength="105.33" lengthAdjust="spacingAndGlyphs" fill="#000">Many Block 3</text>
<text x="1417.08" y="784.45" font-size="17.24" font-weight="normal" textLength="93.06" lengthAdjust="spacingAndGlyphs" fill="#000">Few Block 1</text>
<text x="1417.08" y="817.35" font-size="17.24" font-weight="normal" textLength="92.97" lengthAdjust="spacingAndGlyphs" fill="#000">Few Block 3</text>
<text transform="translate(1009.45,859.42) rotate(-90)" font-size="17.93" font-weight="bold" textLength="219.98" lengthAdjust="spacingAndGlyphs" fill="#000">Probability of YES response</text>
<text x="1178.57" y="896.35" font-size="17.10" font-weight="bold" textLength="79.31" lengthAdjust="spacingAndGlyphs" fill="#000">Condition</text>
<line x1="1061.7" y1="1325.10" x2="1382.0" y2="1325.10" stroke="#9a9a9a" stroke-width="1.3"/>
<line x1="1061.7" y1="1274.70" x2="1382.0" y2="1274.70" stroke="#9a9a9a" stroke-width="1.3"/>
<line x1="1061.7" y1="1224.30" x2="1382.0" y2="1224.30" stroke="#9a9a9a" stroke-width="1.3"/>
<line x1="1061.7" y1="1173.90" x2="1382.0" y2="1173.90" stroke="#9a9a9a" stroke-width="1.3"/>
<line x1="1056.2" y1="1375.50" x2="1061.7" y2="1375.50" stroke="#8a8a8a" stroke-width="1.3"/>
<line x1="1056.2" y1="1325.10" x2="1061.7" y2="1325.10" stroke="#8a8a8a" stroke-width="1.3"/>
<line x1="1056.2" y1="1274.70" x2="1061.7" y2="1274.70" stroke="#8a8a8a" stroke-width="1.3"/>
<line x1="1056.2" y1="1224.30" x2="1061.7" y2="1224.30" stroke="#8a8a8a" stroke-width="1.3"/>
<line x1="1056.2" y1="1173.90" x2="1061.7" y2="1173.90" stroke="#8a8a8a" stroke-width="1.3"/>
<line x1="1056.2" y1="1123.50" x2="1061.7" y2="1123.50" stroke="#8a8a8a" stroke-width="1.3"/>
<rect x="1100.0" y="1305.44" width="51.70" height="70.06" fill="url(#hatchA)" stroke="#000" stroke-width="1.3"/>
<rect x="1164.0" y="1305.44" width="51.70" height="70.06" fill="#000" stroke="#000" stroke-width="1.3"/>
<rect x="1228.0" y="1292.34" width="51.30" height="83.16" fill="url(#hatchB)" stroke="#000" stroke-width="1.3"/>
<rect x="1292.0" y="1259.58" width="51.30" height="115.92" fill="#808080" stroke="#000" stroke-width="1.3"/>
<rect x="1061.7" y="1123.5" width="320.30" height="252.00" fill="none" stroke="#222" stroke-width="1.6"/>
<line x1="1125.85" y1="1277.9" x2="1125.85" y2="1331.4" stroke="#000" stroke-width="2.9"/>
<line x1="1122.35" y1="1277.9" x2="1129.35" y2="1277.9" stroke="#000" stroke-width="3"/>
<line x1="1122.35" y1="1331.4" x2="1129.35" y2="1331.4" stroke="#000" stroke-width="3"/>
<line x1="1189.85" y1="1265.2" x2="1189.85" y2="1320.0" stroke="#000" stroke-width="2.9"/>
<line x1="1186.35" y1="1265.2" x2="1193.35" y2="1265.2" stroke="#000" stroke-width="3"/>
<line x1="1186.35" y1="1320.0" x2="1193.35" y2="1320.0" stroke="#000" stroke-width="3"/>
<line x1="1253.65" y1="1261.2" x2="1253.65" y2="1324.2" stroke="#000" stroke-width="2.9"/>
<line x1="1250.15" y1="1261.2" x2="1257.15" y2="1261.2" stroke="#000" stroke-width="3"/>
<line x1="1250.15" y1="1324.2" x2="1257.15" y2="1324.2" stroke="#000" stroke-width="3"/>
<line x1="1317.65" y1="1229.0" x2="1317.65" y2="1289.8" stroke="#000" stroke-width="2.9"/>
<line x1="1314.15" y1="1229.0" x2="1321.15" y2="1229.0" stroke="#000" stroke-width="3"/>
<line x1="1314.15" y1="1289.8" x2="1321.15" y2="1289.8" stroke="#000" stroke-width="3"/>
<text x="1043.7" y="1381.20" font-size="16" text-anchor="end" textLength="8.9" lengthAdjust="spacingAndGlyphs">0</text>
<text x="1043.7" y="1330.80" font-size="16" text-anchor="end" textLength="24.0" lengthAdjust="spacingAndGlyphs">0,2</text>
<text x="1043.7" y="1280.40" font-size="16" text-anchor="end" textLength="24.0" lengthAdjust="spacingAndGlyphs">0,4</text>
<text x="1043.7" y="1230.00" font-size="16" text-anchor="end" textLength="24.0" lengthAdjust="spacingAndGlyphs">0,6</text>
<text x="1043.7" y="1179.60" font-size="16" text-anchor="end" textLength="24.0" lengthAdjust="spacingAndGlyphs">0,8</text>
<text x="1043.7" y="1129.20" font-size="16" text-anchor="end" textLength="8.9" lengthAdjust="spacingAndGlyphs">1</text>
<rect x="1408.9" y="1207.70" width="10.6" height="10.6" fill="url(#hatchA)" stroke="#000" stroke-width="1.1"/>
<rect x="1408.9" y="1241.20" width="10.6" height="10.6" fill="#000" stroke="#000" stroke-width="1.1"/>
<rect x="1408.9" y="1274.30" width="10.6" height="10.6" fill="url(#hatchB)" stroke="#000" stroke-width="1.1"/>
<rect x="1408.9" y="1307.70" width="10.6" height="10.6" fill="#808080" stroke="#000" stroke-width="1.1"/>
<text x="1424.24" y="1218.35" font-size="17.79" font-weight="normal" textLength="106.13" lengthAdjust="spacingAndGlyphs" fill="#000">Many Block 1</text>
<text x="1424.24" y="1251.85" font-size="17.79" font-weight="normal" textLength="106.04" lengthAdjust="spacingAndGlyphs" fill="#000">Many Block 3</text>
<text x="1424.27" y="1284.95" font-size="17.79" font-weight="normal" textLength="93.77" lengthAdjust="spacingAndGlyphs" fill="#000">Few Block 1</text>
<text x="1424.27" y="1318.35" font-size="17.79" font-weight="normal" textLength="93.68" lengthAdjust="spacingAndGlyphs" fill="#000">Few Block 3</text>
<text transform="translate(1010.65,1358.91) rotate(-90)" font-size="17.93" font-weight="bold" textLength="219.27" lengthAdjust="spacingAndGlyphs" fill="#000">Probability of YES response</text>
<text x="1182.16" y="1396.65" font-size="17.52" font-weight="bold" textLength="79.93" lengthAdjust="spacingAndGlyphs" fill="#000">Condition</text>
<text x="9.19" y="25.55" font-size="28.12" font-weight="bold" textLength="20.07" lengthAdjust="spacingAndGlyphs" fill="#000">A</text>
<text x="979.86" y="25.35" font-size="27.54" font-weight="bold" textLength="18.79" lengthAdjust="spacingAndGlyphs" fill="#000">B</text>
</svg>
</body></html>
